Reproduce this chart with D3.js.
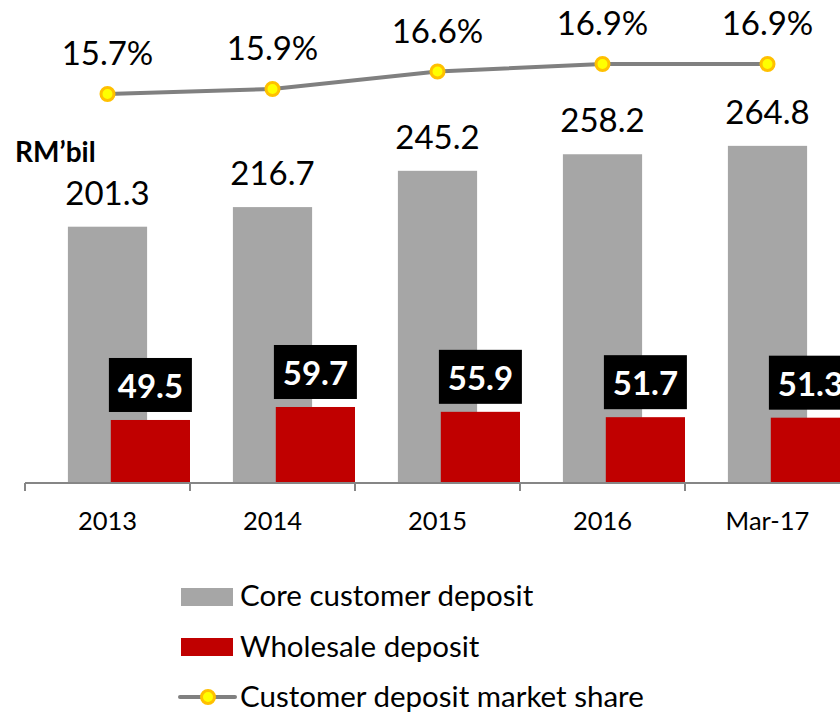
<!DOCTYPE html>
<html>
<head>
<meta charset="utf-8">
<script src="https://cdn.jsdelivr.net/npm/d3@7"></script>
<style>
    body { margin: 0; background: #fff; }
    svg { display: block; font-family: Lato, "Open Sans", sans-serif; }
</style>
</head>
<body>
<svg></svg>
<script>
// данные диаграммы
let categories = ["2013", "2014", "2015", "2016", "Mar-17"];
let coreDeposit = [201.3, 216.7, 245.2, 258.2, 264.8];
let wholesaleDeposit = [49.5, 59.7, 55.9, 51.7, 51.3];
let marketShare = [15.7, 15.9, 16.6, 16.9, 16.9];
let legendLabels = ["Core customer deposit", "Wholesale deposit", "Customer deposit market share"];

function drawChart() {
    let width = 840;
    let height = 712;
    let svg = d3.select("svg")
        .attr("width", width)
        .attr("height", height);

    svg.selectAll("*").remove();

    let baseY = 483;
    let gray = "#a6a6a6";
    let red = "#c00000";

    // шкалы
    let scaleX = d3.scaleBand()
        .domain(categories)
        .range([25, 850])
        .padding(0);
    let scaleY = d3.scaleLinear()
        .domain([0, 201.3])
        .range([baseY, 226.7]);
    let scaleShare = d3.scaleLinear()
        .domain([15.7, 16.9])
        .range([94, 64]);

    let bw = scaleX.bandwidth();
    let barW = bw * 0.48;
    let grayOff = bw * 0.26;
    let redOff = bw * 0.52;

    // серые столбцы
    svg.selectAll(".core")
        .data(coreDeposit)
        .enter()
        .append("rect")
        .attr("class", "core")
        .attr("x", (d, i) => scaleX(categories[i]) + grayOff)
        .attr("width", barW)
        .attr("y", d => scaleY(d))
        .attr("height", d => baseY - scaleY(d))
        .attr("fill", gray);

    svg.selectAll(".core-label")
        .data(coreDeposit)
        .enter()
        .append("text")
        .attr("class", "core-label")
        .attr("x", (d, i) => scaleX(categories[i]) + grayOff + barW / 2)
        .attr("y", d => scaleY(d) - 22)
        .attr("text-anchor", "middle")
        .style("font-size", "33px")
        .text(d => d.toFixed(1));

    // красные столбцы
    svg.selectAll(".wholesale")
        .data(wholesaleDeposit)
        .enter()
        .append("rect")
        .attr("class", "wholesale")
        .attr("x", (d, i) => scaleX(categories[i]) + redOff)
        .attr("width", barW)
        .attr("y", d => scaleY(d))
        .attr("height", d => baseY - scaleY(d))
        .attr("fill", red);

    // подписи в черных рамках
    let boxes = svg.selectAll(".wlabel")
        .data(wholesaleDeposit)
        .enter()
        .append("g")
        .attr("class", "wlabel")
        .attr("transform", (d, i) => `translate(${scaleX(categories[i]) + redOff + barW / 2}, ${scaleY(d) - 8})`);

    boxes.append("rect")
        .attr("x", -41.5)
        .attr("y", -54)
        .attr("width", 83)
        .attr("height", 54)
        .attr("fill", "#000");

    boxes.append("text")
        .attr("x", 0)
        .attr("y", -14)
        .attr("text-anchor", "middle")
        .attr("fill", "#fff")
        .style("font-size", "33px")
        .style("font-weight", "bold")
        .text(d => d.toFixed(1));

    // ось X
    let axis = svg.append("g").attr("class", "x-axis");
    axis.append("line")
        .attr("x1", 25)
        .attr("x2", width)
        .attr("y1", baseY)
        .attr("y2", baseY)
        .attr("stroke", "#868686")
        .attr("stroke-width", 2);

    axis.selectAll(".tick-line")
        .data(categories)
        .enter()
        .append("line")
        .attr("class", "tick-line")
        .attr("x1", d => scaleX(d))
        .attr("x2", d => scaleX(d))
        .attr("y1", baseY)
        .attr("y2", baseY + 8)
        .attr("stroke", "#868686")
        .attr("stroke-width", 2);

    axis.selectAll(".tick-label")
        .data(categories)
        .enter()
        .append("text")
        .attr("class", "tick-label")
        .attr("x", d => scaleX(d) + bw / 2)
        .attr("y", 530)
        .attr("text-anchor", "middle")
        .style("font-size", "25.5px")
        .text(d => d);

    // линия доли рынка
    let line = d3.line()
        .x((d, i) => scaleX(categories[i]) + bw / 2)
        .y(d => scaleShare(d));

    svg.append("path")
        .datum(marketShare)
        .attr("d", line)
        .attr("fill", "none")
        .attr("stroke", "#808080")
        .attr("stroke-width", 4);

    svg.selectAll(".dot")
        .data(marketShare)
        .enter()
        .append("circle")
        .attr("class", "dot")
        .attr("cx", (d, i) => scaleX(categories[i]) + bw / 2)
        .attr("cy", d => scaleShare(d))
        .attr("r", 6.5)
        .attr("fill", "#ffff00")
        .attr("stroke", "#ffc000")
        .attr("stroke-width", 3);

    svg.selectAll(".share-label")
        .data(marketShare)
        .enter()
        .append("text")
        .attr("class", "share-label")
        .attr("x", (d, i) => scaleX(categories[i]) + bw / 2)
        .attr("y", d => scaleShare(d) - 29)
        .attr("text-anchor", "middle")
        .style("font-size", "33px")
        .text(d => d.toFixed(1) + "%");

    // единицы
    svg.append("text")
        .attr("x", 15)
        .attr("y", 162)
        .style("font-size", "28px")
        .style("font-weight", "bold")
        .text("RM’bil");

    // легенда
    let legend = svg.append("g").attr("class", "legend");
    legend.append("rect")
        .attr("x", 181).attr("y", 588)
        .attr("width", 52).attr("height", 18)
        .attr("fill", gray);
    legend.append("rect")
        .attr("x", 181).attr("y", 638)
        .attr("width", 52).attr("height", 18)
        .attr("fill", red);
    legend.append("line")
        .attr("x1", 180).attr("x2", 235)
        .attr("y1", 697).attr("y2", 697)
        .attr("stroke", "#808080")
        .attr("stroke-width", 4)
        .attr("stroke-linecap", "round");
    legend.append("circle")
        .attr("cx", 208).attr("cy", 697)
        .attr("r", 6.5)
        .attr("fill", "#ffff00")
        .attr("stroke", "#ffc000")
        .attr("stroke-width", 3);

    legend.selectAll(".legend-text")
        .data(legendLabels)
        .enter()
        .append("text")
        .attr("class", "legend-text")
        .attr("x", 240)
        .attr("y", (d, i) => 606 + i * 50.5)
        .style("font-size", "29.5px")
        .text(d => d);
}

drawChart();
</script>
</body>
</html>
